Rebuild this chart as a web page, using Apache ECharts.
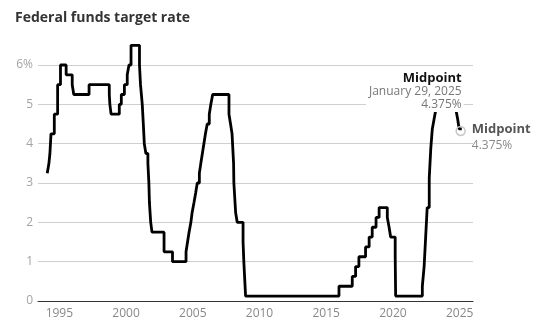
<!DOCTYPE html>
<html><head><meta charset="utf-8">
<script src="https://cdn.jsdelivr.net/npm/echarts@6/dist/echarts.min.js"></script>
<style>html,body{margin:0;padding:0;background:#fff}#c{width:550px;height:326px}</style>
</head><body><div id="c"></div>
<script>
// Dates of target changes and the target-rate midpoint (%) that took effect
const changeDates = [
'1994-02-04','1994-03-22','1994-04-18','1994-05-17','1994-08-16','1994-11-15',
'1995-02-01','1995-07-06','1995-12-19','1996-01-31','1997-03-25',
'1998-09-29','1998-10-15','1998-11-17','1999-06-30','1999-08-24','1999-11-16',
'2000-02-02','2000-03-21','2000-05-16',
'2001-01-03','2001-01-31','2001-03-20','2001-04-18','2001-05-15','2001-06-27',
'2001-08-21','2001-09-17','2001-10-02','2001-11-06','2001-12-11',
'2002-11-06','2003-06-25',
'2004-06-30','2004-08-10','2004-09-21','2004-11-10','2004-12-14',
'2005-02-02','2005-03-22','2005-05-03','2005-06-30','2005-08-09','2005-09-20','2005-11-01','2005-12-13',
'2006-01-31','2006-03-28','2006-05-10','2006-06-29',
'2007-09-18','2007-10-31','2007-12-11',
'2008-01-22','2008-01-30','2008-03-18','2008-04-30','2008-10-08','2008-10-29','2008-12-16',
'2015-12-16','2016-12-14','2017-03-15','2017-06-14','2017-12-13',
'2018-03-21','2018-06-13','2018-09-26','2018-12-19',
'2019-07-31','2019-09-18','2019-10-30','2020-03-03','2020-03-15',
'2022-03-16','2022-05-04','2022-06-15','2022-07-27','2022-09-21','2022-11-02','2022-12-14',
'2023-02-01','2023-03-22','2023-05-03','2023-07-26',
'2024-09-18','2024-11-07','2024-12-18','2025-01-29','2025-02-28'
];
const midpointRates = [
3.25,3.5,3.75,4.25,4.75,5.5,
6.0,5.75,5.5,5.25,5.5,
5.25,5.0,4.75,5.0,5.25,5.5,
5.75,6.0,6.5,
6.0,5.5,5.0,4.5,4.0,3.75,
3.5,3.0,2.5,2.0,1.75,
1.25,1.0,
1.25,1.5,1.75,2.0,2.25,
2.5,2.75,3.0,3.25,3.5,3.75,4.0,4.25,
4.5,4.75,5.0,5.25,
4.75,4.5,4.25,
3.5,3.0,2.25,2.0,1.5,1.0,0.125,
0.375,0.625,0.875,1.125,1.375,
1.625,1.875,2.125,2.375,
2.125,1.875,1.625,1.125,0.125,
0.375,0.875,1.625,2.375,3.125,3.875,4.375,
4.625,4.875,5.125,5.375,
4.875,4.625,4.375,4.375,4.375
];
const yTicks = [0,1,2,3,4,5,6];
const xTicks = [1995,2000,2005,2010,2015,2020,2025];
const highlightDate = '2025-01-29';
const highlightLabel = 'January 29, 2025';
const highlightRate = 4.375;
const seriesName = 'Midpoint';

function toYear(s){
  const d = Date.UTC(+s.slice(0,4), +s.slice(5,7)-1, +s.slice(8,10));
  const y = +s.slice(0,4);
  const a = Date.UTC(y,0,1), b = Date.UTC(y+1,0,1);
  return y + (d - a)/(b - a);
}
const seriesData = changeDates.map((d,i)=>[toYear(d), midpointRates[i]]);
const FONT = '"Open Sans", "Noto Sans", sans-serif';

const chart = echarts.init(document.getElementById('c'), null, {renderer:'canvas'});
chart.setOption({
  animation:false,
  title:{text:'Federal funds target rate', left:15, top:11, padding:0,
    textStyle:{fontFamily:FONT, fontSize:14, fontWeight:'bold', color:'#333'}},
  grid:{left:38, right:77, top:41.4, bottom:25, containLabel:false},
  xAxis:{type:'value', min:1993.4, max:2026,
    axisLine:{show:true, onZero:false, lineStyle:{color:'#333', width:1}},
    axisTick:{show:false, customValues:xTicks},
    splitLine:{show:false},
    axisLabel:{customValues:xTicks, formatter:v=>String(v), color:'#888', fontFamily:FONT, fontSize:12, margin:7}},
  yAxis:{type:'value', min:0, max:6.6,
    axisLine:{show:false}, axisTick:{show:false, customValues:yTicks},
    splitLine:{show:true, lineStyle:{color:'#cfcfcf', width:1}},
    axisLabel:{customValues:yTicks, formatter:v=>v===6?'6%':String(v), color:'#a3a3a3', fontFamily:FONT, fontSize:12, margin:5}},
  series:[{
    name:seriesName, type:'line', step:'end', data:seriesData, symbol:'none',
    lineStyle:{color:'#000', width:2.8}, z:2,
    endLabel:{show:true, distance:10, offset:[0,8],
      formatter:()=>'{a|'+seriesName+'}\n{b|'+highlightRate+'%}',
      rich:{a:{fontFamily:FONT, fontSize:13, fontWeight:'bold', color:'#555', lineHeight:17},
            b:{fontFamily:FONT, fontSize:12, color:'#8a8a8a', lineHeight:16}}},
    markPoint:{
      z:5,
      data:[
        {coord:[toYear(highlightDate), highlightRate], symbol:'circle', symbolSize:0,
          label:{show:true, position:'top', align:'right', offset:[3,-12],
            backgroundColor:'#fff', padding:[2,2,1,3],
            formatter:'{a|'+seriesName+'}\n{b|'+highlightLabel+'}\n{b|'+highlightRate+'%}',
            rich:{a:{fontFamily:FONT, fontSize:13, fontWeight:'bold', color:'#111', lineHeight:13, align:'right'},
                  b:{fontFamily:FONT, fontSize:12, color:'#777', lineHeight:13, align:'right'}}}},
        {coord:[toYear(highlightDate), highlightRate], symbol:'circle', symbolSize:9, symbolOffset:[0,2],
          itemStyle:{color:'rgba(255,255,255,0)', borderColor:'#c8c8c8', borderWidth:1.5},
          label:{show:false}}
      ]
    }
  }]
});
</script></body></html>
